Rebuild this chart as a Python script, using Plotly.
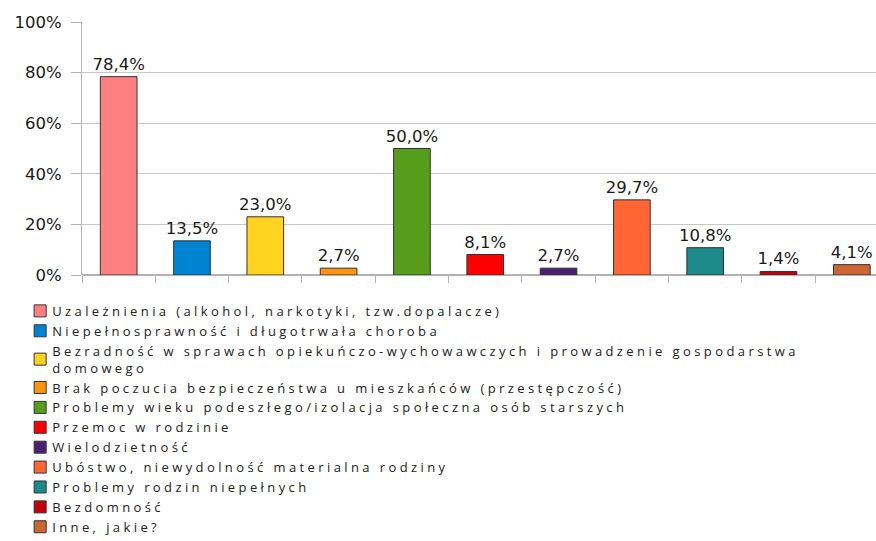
import plotly.graph_objects as go

categories = [
    "Uzależnienia (alkohol, narkotyki, tzw.dopalacze)",
    "Niepełnosprawność i długotrwała choroba",
    "Bezradność w sprawach opiekuńczo-wychowawczych i prowadzenie gospodarstwa<br>domowego",
    "Brak poczucia bezpieczeństwa u mieszkańców (przestępczość)",
    "Problemy wieku podeszłego/izolacja społeczna osób starszych",
    "Przemoc w rodzinie",
    "Wielodzietność",
    "Ubóstwo, niewydolność materialna rodziny",
    "Problemy rodzin niepełnych",
    "Bezdomność",
    "Inne, jakie?",
]
values = [78.4, 13.5, 23.0, 2.7, 50.0, 8.1, 2.7, 29.7, 10.8, 1.4, 4.1]
colors = ["#FF8080", "#0084D1", "#FFD320", "#FF950E", "#579D1C", "#FF0000",
          "#4B1F6F", "#FF6633", "#1C8A88", "#C5000B", "#CC6633"]
y_ticks = [0, 20, 40, 60, 80, 100]
y_ticktext = ["0%", "20%", "40%", "60%", "80%", "100%"]

fig = go.Figure()
for i, (name, v, c) in enumerate(zip(categories, values, colors)):
    fig.add_trace(go.Bar(
        x=[i], y=[v], name=name,
        marker_color=c, marker_line_color="#333333", marker_line_width=1,
        width=0.5,
        text=[f"{v:.1f}%".replace(".", ",")],
        textposition="outside", cliponaxis=False, constraintext="none",
        textfont=dict(family="DejaVu Sans", size=16.5, color="#1a1a1a"),
    ))

fig.update_layout(
    width=876, height=541,
    margin=dict(l=82, r=0, t=22, b=266, autoexpand=False),
    plot_bgcolor="white", paper_bgcolor="white",
    barmode="overlay",
    showlegend=True,
    legend=dict(
        xref="container", yref="container",
        x=0.023, xanchor="left", y=0.453, yanchor="top",
        font=dict(family="Open Sans", size=13, color="#222222"),
        tracegroupgap=0, itemwidth=30, bgcolor="rgba(0,0,0,0)",
    ),
    xaxis=dict(
        range=[-0.5, 10.33], showticklabels=False,
        tickmode="array", tickvals=[i - 0.5 for i in range(12)],
        ticks="outside", ticklen=7, tickcolor="#b3b3b3",
        showgrid=False, zeroline=False,
        showline=False,
    ),
    yaxis=dict(
        range=[0, 100], tickvals=y_ticks, ticktext=y_ticktext,
        ticks="outside", ticklen=10, tickcolor="#b3b3b3",
        ticklabelstandoff=6,
        showgrid=True, gridcolor="#c8c8c8", gridwidth=1,
        showline=True, linecolor="#b3b3b3", zeroline=True, zerolinecolor="#b3b3b3",
        tickfont=dict(family="DejaVu Sans", size=16.5, color="#1a1a1a"),
    ),
)

# legend text in the original is widely letter-spaced (Calibri-like)
post = """
var gd = document.getElementById('{plot_id}');
document.body.style.margin = '0';
function spread() {
  gd.querySelectorAll('.legend [clip-path]').forEach(function (s) { s.removeAttribute('clip-path'); });
  gd.querySelectorAll('.legendtext').forEach(function (t) {
    t.style.letterSpacing = '3.4px';
    t.setAttribute('x', 32);
    t.querySelectorAll('tspan.line').forEach(function (s) { s.setAttribute('x', 32); });
  });
}
spread();
gd.on('plotly_afterplot', spread);
"""
fig.write_html("out.html", post_script=post, config={"displayModeBar": False})
